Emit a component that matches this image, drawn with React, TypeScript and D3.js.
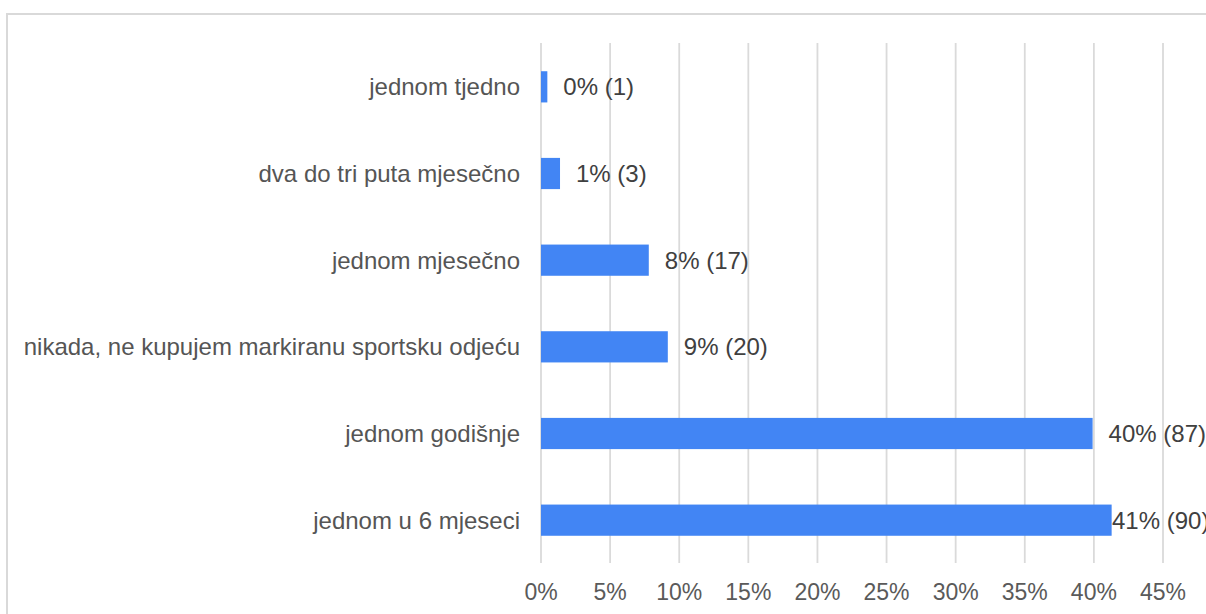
import React from 'react';
import * as d3 from 'd3';

const categories = [
  'jednom tjedno',
  'dva do tri puta mjesečno',
  'jednom mjesečno',
  'nikada, ne kupujem markiranu sportsku odjeću',
  'jednom godišnje',
  'jednom u 6 mjeseci',
];
const counts = [1, 3, 17, 20, 87, 90];
const xTicks = [0, 0.05, 0.1, 0.15, 0.2, 0.25, 0.3, 0.35, 0.4, 0.45];

const W = 1206;
const H = 614;
const FONT = '"Liberation Sans", Arial, sans-serif';

const App = () => {
  const total = d3.sum(counts);
  const pct = d3.format('.0%');

  const x = d3.scaleLinear().domain([0, 0.45]).range([541, 1163]);
  const y = d3.scaleBand()
    .domain(categories)
    .range([43.5, 563.5])
    .paddingInner(0.64)
    .paddingOuter(0.32);

  const labelMaxX = 1112; // keep last label inside the chart box

  return (
    <svg width={W} height={H} style={{ position: 'absolute', left: 0, top: 0 }} fontFamily={FONT}>
      <rect x={0} y={0} width={W} height={H} fill="#fff" />
      {/* outer frame, cut off at right and bottom */}
      <rect x={7} y={14} width={W + 20} height={H + 20} fill="none" stroke="#d9d9d9" strokeWidth={2} />

      {/* gridlines */}
      {xTicks.map(t => (
        <line key={'g' + t} x1={x(t)} x2={x(t)} y1={43} y2={563} stroke="#dadada" strokeWidth={1.8} />
      ))}

      {/* bars */}
      {categories.map((c, i) => (
        <rect
          key={c}
          x={x(0)}
          y={y(c)}
          width={x(counts[i] / total) - x(0)}
          height={y.bandwidth()}
          fill="#4285f4"
        />
      ))}

      {/* category labels */}
      {categories.map(c => (
        <text key={'l' + c} x={520} y={y(c) + y.bandwidth() / 2} dy="0.35em" textAnchor="end"
          fontSize={24} fill="#555">{c}</text>
      ))}

      {/* value labels */}
      {categories.map((c, i) => {
        const v = counts[i] / total;
        return (
          <text key={'v' + c} x={Math.min(x(v) + 16, labelMaxX)} y={y(c) + y.bandwidth() / 2} dy="0.35em"
            fontSize={24} fill="#404040">{`${pct(v)} (${counts[i]})`}</text>
        );
      })}

      {/* x tick labels */}
      {xTicks.map(t => (
        <text key={'t' + t} x={x(t)} y={600} textAnchor="middle" fontSize={23} fill="#5a5a5a">{pct(t)}</text>
      ))}
    </svg>
  );
};

export default App;
